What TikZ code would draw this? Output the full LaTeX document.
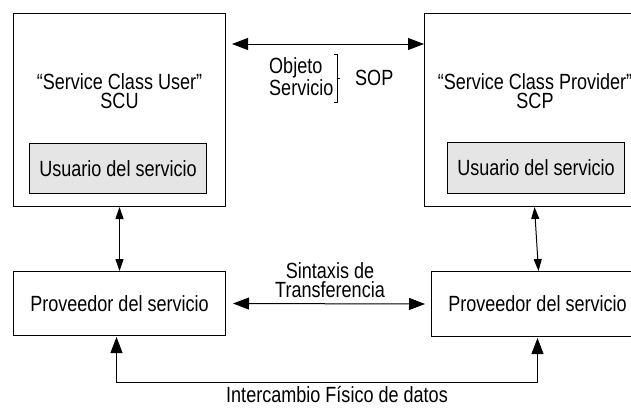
\documentclass[tikz,border=0pt]{standalone}
\usepackage{fontspec}
\setmainfont{Liberation Sans}[FakeStretch=0.82]
\usetikzlibrary{arrows.meta,calc}

\begin{document}
\begin{tikzpicture}[x=1bp,y=-1bp,
  every node/.style={font=\fontsize{22bp}{19.5bp}\selectfont, inner sep=0pt},
  frame/.style={draw=black, line width=1bp, rectangle, anchor=north west},
  inner/.style={frame, fill=black!10},
  lbl/.style={align=center},
  bigtip/.style={line width=1bp, {Triangle[length=16bp,width=12bp]}-{Triangle[length=16bp,width=12bp]}},
  smalltip/.style={line width=1bp, {Triangle[length=12bp,width=8bp]}-{Triangle[length=12bp,width=8bp]}},
  link/.style={line width=1bp}]

\useasboundingbox (0,0) rectangle (631,407);
\clip (0,0) rectangle (631,407);

% upper boxes: application entities
\node[frame, minimum width=212bp, minimum height=193bp] (scu) at (13,13) {};
\node[frame, minimum width=224bp, minimum height=193bp] (scp) at (424,13) {};
\node[lbl] (scutxt) at (119.5,91) {“Service Class User”\\SCU};
\node[lbl] (scptxt) at (535,91) {“Service Class Provider”\\SCP};
\node[inner, minimum width=177bp, minimum height=50bp] (usr1) at (29,143) {};
\node at (usr1.center) {Usuario del servicio};
\node[inner, minimum width=177bp, minimum height=51bp] (usr2) at (447,142) {};
\node at (usr2.center) {Usuario del servicio};

% lower boxes: service providers
\node[frame, minimum width=212bp, minimum height=64bp] (prov1) at (13,271) {Proveedor del servicio};
\node[frame, minimum width=212bp, minimum height=65bp] (prov2) at (431,271) {Proveedor del servicio};

% SOP exchange between the users
\coordinate (sopL) at (232,44);
\draw[bigtip] (sopL) -- (sopL -| scp.west);
\node[anchor=west] (obj) at (269,68) {Objeto};
\node[anchor=west] (serv) at (269,88) {Servicio};
\draw[link] (334,54) -- (337,54) -- (337,102) -- (334,102);
\draw[link] (337,78) -- (340,78);
\node[anchor=west] (sop) at (355,78) {SOP};

% user <-> provider
\draw[smalltip] (scu.south) -- (prov1.north);
\draw[smalltip] ([xshift=-2bp]scp.south) -- ([xshift=1bp]prov2.north);

% transfer syntax between providers
\draw[bigtip] ([xshift=7bp]prov1.east) -- ([xshift=-6bp]prov2.west);
\node[lbl] (sint) at (330,280) {Sintaxis de\\Transferencia};

% physical exchange
\draw[bigtip] ([xshift=-3bp,yshift=-1bp]prov1.south) -- ++(0,45) -| ([yshift=-1bp]prov2.south);
\node (phys) at (337,394) {Intercambio Físico de datos};

\end{tikzpicture}
\end{document}
